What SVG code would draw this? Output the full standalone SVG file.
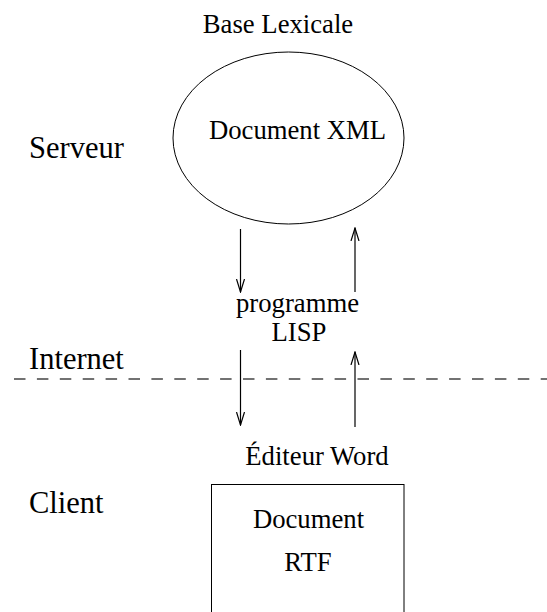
<svg xmlns="http://www.w3.org/2000/svg" width="547" height="612" viewBox="0 0 547 612">
<style>
text{font-family:"Liberation Serif","Times New Roman",serif;fill:#000}
.t{font-size:26.7px;text-anchor:middle}
.s{font-size:30.5px}
.shape{fill:none;stroke:#000;stroke-width:1}
.c{fill:none;stroke:#000;stroke-width:1.2}
</style>
<defs>
<marker id="ah" markerUnits="userSpaceOnUse" markerWidth="14" markerHeight="12" viewBox="-13 -6 14 12" refX="0" refY="0" orient="auto">
<path d="M-13,-4 L0,0 L-13,4" fill="none" stroke="#000" stroke-width="1.2"/>
</marker>
</defs>
<rect width="547" height="612" fill="#fff"/>
<g id="labels">
<text class="s" x="29" y="158">Serveur</text>
<text class="s" x="29" y="369">Internet</text>
<text class="s" x="29" y="513">Client</text>
</g>
<line id="internet-line" x1="14" y1="379" x2="547" y2="379" stroke="#444" stroke-width="1.3" stroke-dasharray="11.5,11.4"/>
<g id="base-lexicale">
<text class="t" x="278" y="33">Base Lexicale</text>
<ellipse class="shape" cx="288.5" cy="138" rx="115.5" ry="86"/>
<text class="t" x="297.5" y="139">Document XML</text>
</g>
<g id="programme-lisp">
<text class="t" x="297.5" y="312">programme</text>
<text class="t" x="299" y="341">LISP</text>
</g>
<g id="editeur-word">
<text class="t" x="317" y="465">Éditeur Word</text>
<rect class="shape" x="211.5" y="484.5" width="192.5" height="140"/>
<text class="t" x="308.5" y="528">Document</text>
<text class="t" x="308" y="571">RTF</text>
</g>
<g id="connectors">
<line class="c" x1="240.5" y1="229" x2="240.5" y2="292" marker-end="url(#ah)"/>
<line class="c" x1="355" y1="292" x2="355" y2="228" marker-end="url(#ah)"/>
<line class="c" x1="240.5" y1="350" x2="240.5" y2="425" marker-end="url(#ah)"/>
<line class="c" x1="355" y1="427" x2="355" y2="352" marker-end="url(#ah)"/>
</g>
</svg>
